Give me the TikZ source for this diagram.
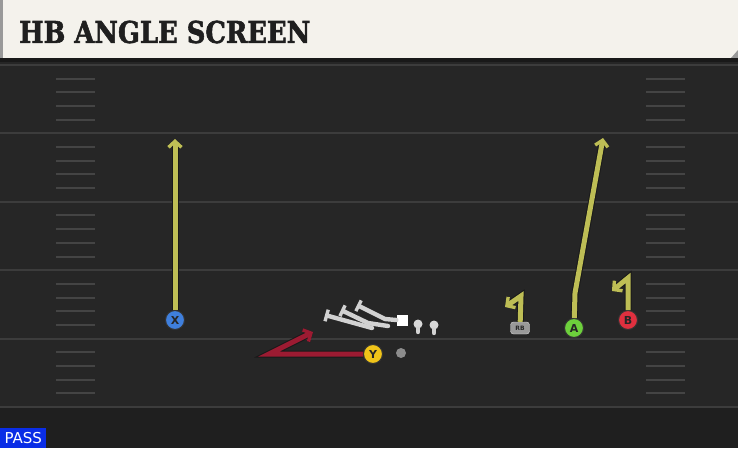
\documentclass[tikz,border=0pt]{standalone}
\usepackage{fontspec}
\setmainfont{DejaVu Sans}
\newfontfamily\titlefont{DejaVu Serif}[BoldFeatures={FakeBold=2}]
\usetikzlibrary{arrows.meta, positioning}

\definecolor{fieldbg}{HTML}{262626}
\definecolor{yardline}{HTML}{3C3C3C}
\definecolor{hashgray}{HTML}{444444}
\definecolor{titlecream}{HTML}{F4F2EC}
\definecolor{routeyellow}{HTML}{BEBE55}
\definecolor{routered}{HTML}{9C1B32}
\definecolor{xblue}{HTML}{3F7FDC}
\definecolor{yyellow}{HTML}{F0C419}
\definecolor{agreen}{HTML}{6DD03C}
\definecolor{bred}{HTML}{E0303F}
\definecolor{olgray}{HTML}{D2D2D2}
\definecolor{passblue}{HTML}{0A2DE6}

\begin{document}
\begin{tikzpicture}[x=1pt, y=-1pt,
  player/.style={circle, draw=black!80, line width=1pt, minimum size=19pt, inner sep=0pt,
    font=\bfseries\fontsize{11}{11}\selectfont, text=black!85},
  route/.style={draw=routeyellow, line width=5pt,
    -{Straight Barb[length=6pt,width=13pt,line width=3.4pt]},
    preaction={draw=black!90, line width=7pt}},
  redroute/.style={route, draw=routered},
  block/.style={draw=olgray, line width=4.4pt, {Bar[width=12pt,line width=3.4pt]}-, line cap=round},
  olhead/.style={circle, fill=olgray!85, minimum size=9pt, inner sep=0pt}] % 1pt = 1px of the reference

  \useasboundingbox (0,0) rectangle (738,448);
  \fill[fieldbg] (0,0) rectangle (738,448);
  \fill[black!88] (0,407) rectangle (738,448);

  % yard lines and hash marks
  \foreach \y in {65,133.4,201.8,270.2,338.6,407} {
    \draw[yardline, line width=2pt] (0,\y) -- (738,\y);
  }
  \foreach \y in {65,133.4,201.8,270.2,338.6} {
    \foreach \k in {1,...,4} {
      \draw[hashgray, line width=2pt] (56,\y+13.68*\k) -- (95,\y+13.68*\k);
      \draw[hashgray, line width=2pt] (646,\y+13.68*\k) -- (685,\y+13.68*\k);
    }
  }

  % title bar
  \fill[titlecream] (0,0) rectangle (738,58);
  \fill[black!40] (0,0) rectangle (3,58);
  \fill[black!40] (731,58) -- (738,50) -- (738,58) -- cycle;
  \fill[black!90] (0,58) rectangle (738,62);
  \node[anchor=west, inner sep=0pt, text=black!88] (title) at (19,32)
    {\scalebox{0.86}[1]{\titlefont\bfseries\fontsize{30}{30}\selectfont HB ANGLE SCREEN}};

  % players
  \node[player, fill=xblue] (X) at (175,320) {X};
  \node[player, fill=yyellow] (Y) at (373,354) {Y};
  \node[player, fill=agreen] (A) at (574,328) {A};
  \node[player, fill=bred] (B) at (628,320) {B};
  \node[draw=black!15, fill=black!40, rounded corners=3pt, minimum width=19pt, minimum height=12pt,
    inner sep=0pt, font=\bfseries\fontsize{6}{6}\selectfont, text=black!85] (RB) at (520,328) {RB};
  \node[circle, fill=black!45, minimum size=10pt, inner sep=0pt] (QB) at (401,353) {};

  % line
  \node[fill=white, minimum size=11pt, inner sep=0pt] (OC) at (402,320) {};
  \node[olhead] (RG) at (418,324) {};
  \node[olhead] (RT) at (434,325) {};
  \coordinate (LT) at (372,328);
  \coordinate (LG) at (388,326);
  \draw[block] (325,315) -- (LT);
  \draw[block] (341,310) -- (368,323) -- (LG);
  \draw[block] (357,305) -- (385,319) -- (OC.west);
  \draw[block, -{Bar[width=12pt,line width=3.4pt]}, {}-] (RG) -- ++(0,8);
  \draw[block, -{Bar[width=12pt,line width=3.4pt]}, {}-] (RT) -- ++(0,8);

  % routes
  \coordinate (Xend) at (175,139);
  \coordinate (Akink) at (575,293);
  \coordinate (Aend) at (603,138);
  \coordinate (RBtop) at (521,296);
  \coordinate (RBend) at (505,307);
  \coordinate (Btop) at (628,278);
  \coordinate (Bend) at (612,291);
  \coordinate (Yback) at (269,354);
  \coordinate (Yend) at (313,332);
  \draw[route] (X) -- (Xend);
  \draw[route] (A) -- (Akink) -- (Aend);
  \draw[route] (RB) -- (RBtop) -- (RBend);
  \draw[route] (B) -- (Btop) -- (Bend);
  \draw[redroute] (Y) -- (Yback) -- (Yend);

  \node[fill=passblue, text=white, anchor=south west, minimum width=46pt, minimum height=20pt,
    inner sep=0pt, font=\fontsize{15}{15}\selectfont] (pass) at (0,448) {PASS};
\end{tikzpicture}
\end{document}
